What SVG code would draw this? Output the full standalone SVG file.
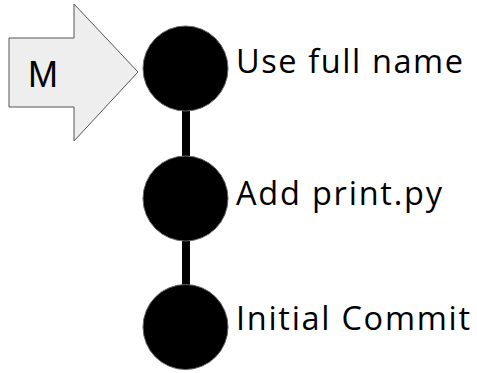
<svg xmlns="http://www.w3.org/2000/svg" width="477" height="373" viewBox="0 0 477 373">
<style>
.commit{fill:#000;stroke:#666;stroke-width:1}
.lbl{font-family:"Open Sans","Noto Sans",sans-serif;font-size:32.5px;fill:#000}
.edge{stroke:#000;stroke-width:8;fill:none}
</style>
<rect width="477" height="373" fill="#fff"/>
<g id="connectors">
<line class="edge" x1="186" y1="110" x2="186" y2="156"/>
<line class="edge" x1="186" y1="240" x2="186" y2="285"/>
</g>
<g id="branch-M">
<polygon points="9,38 74,38 74,4 138,72 74,141 74,107 9,107" fill="#eeeeee" stroke="#555" stroke-width="1"/>
<text x="43" y="87" text-anchor="middle" style="font-family:'Liberation Sans',Arial,sans-serif;font-size:36px;fill:#000">M</text>
</g>
<g id="commit-3">
<circle class="commit" cx="185.5" cy="68.5" r="42.5"/>
<text class="lbl" x="236" y="73" textLength="227" lengthAdjust="spacing">Use full name</text>
</g>
<g id="commit-2">
<circle class="commit" cx="185.5" cy="198.5" r="42.5"/>
<text class="lbl" x="236" y="205" textLength="206" lengthAdjust="spacing">Add print.py</text>
</g>
<g id="commit-1">
<circle class="commit" cx="185.5" cy="327" r="42.5"/>
<text class="lbl" x="236" y="330" textLength="234" lengthAdjust="spacing">Initial Commit</text>
</g>
</svg>
